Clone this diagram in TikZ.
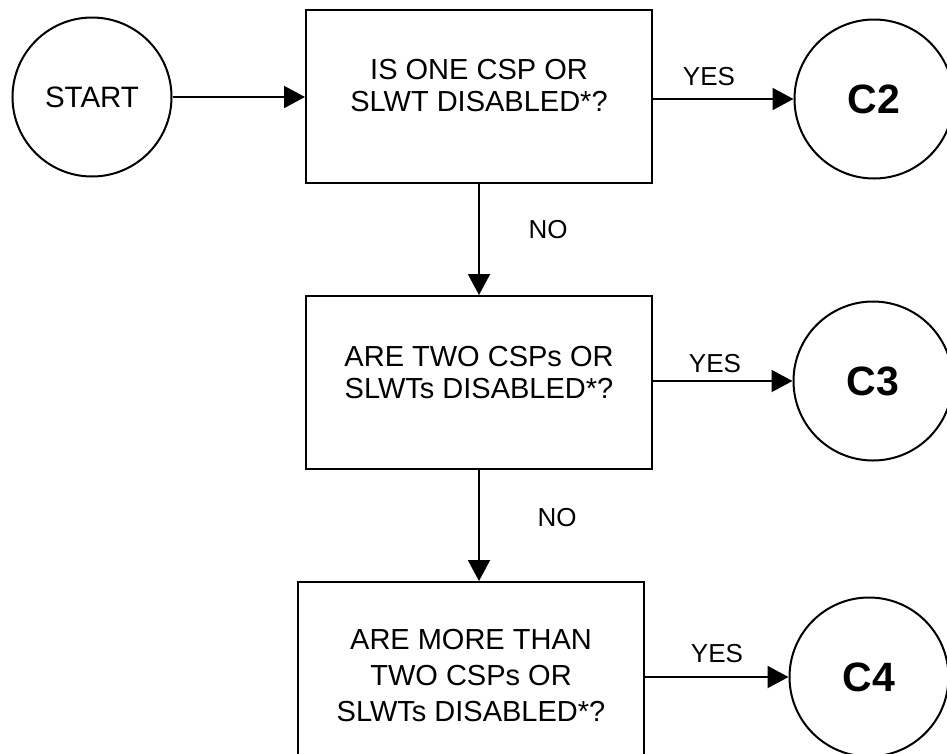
\documentclass[tikz,border=0pt]{standalone}
\usepackage{fontspec}
\setmainfont{Liberation Sans}
\usetikzlibrary{arrows.meta}
\begin{document}
\begin{tikzpicture}[x=1pt,y=-1pt,
  every node/.style={inner sep=0pt},
  term/.style={circle,draw,line width=2pt,minimum size=159pt},
  connector/.style={term,font=\fontsize{41}{46}\selectfont\bfseries},
  decision/.style={draw,line width=2pt,minimum width=346pt,minimum height=173pt},
  qtext/.style={align=center,font=\fontsize{29}{32}\selectfont},
  qtextwide/.style={align=center,font=\fontsize{29}{36}\selectfont},
  lbl/.style={font=\fontsize{26}{30}\selectfont},
  arr/.style={line width=2pt,-{Triangle[length=21pt,width=22pt]}},
  ]
\useasboundingbox (0,0) rectangle (947,753);

% terminals and connectors
\node[term,font=\fontsize{29.5}{34}\selectfont] (start) at (92,97) {START};
\node[connector] (c2) at (874,99) {C2};
\node[connector] (c3) at (873,381) {C3};
\node[connector] (c4) at (869,677) {C4};

% decision boxes
\node[decision] (b1) at (479,96.5) {};
\node[decision] (b2) at (479,382.5) {};
\node[decision,minimum width=346pt,minimum height=175pt] (b3) at (471,669.5) {};

% questions
\node[qtext] (q1) at (479,86) {IS ONE CSP OR\\SLWT DISABLED*?};
\node[qtext] (q2) at (479,372.5) {ARE TWO CSPs OR\\SLWTs DISABLED*?};
\node[qtextwide] (q3) at (471,676) {ARE MORE THAN\\TWO CSPs OR\\SLWTs DISABLED*?};

% flow
\draw[arr] (start.east) -- (b1.west |- start.east);
\draw[arr] (b1.east |- c2.west) -- (c2.west);
\draw[arr] (b2.east |- c3.west) -- (c3.west);
\draw[arr] (b3.east |- c4.west) -- (c4.west);
\draw[arr] (b1.south) -- (b2.north);
\draw[arr] (b2.south) -- (b2.south |- b3.north);

% branch labels
\node[lbl] (y1) at (709,77) {YES};
\node[lbl] (y2) at (715,364) {YES};
\node[lbl] (y3) at (717,654) {YES};
\node[lbl] (n1) at (548,230) {NO};
\node[lbl] (n2) at (557,518) {NO};
\end{tikzpicture}
\end{document}
